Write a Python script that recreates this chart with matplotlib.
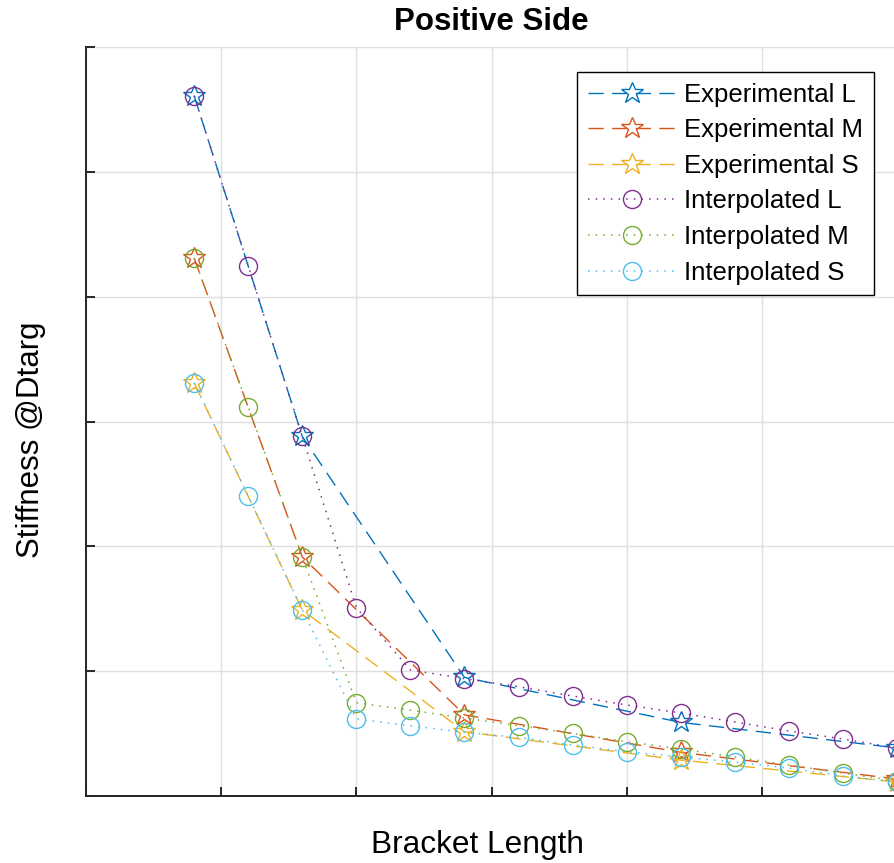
import matplotlib
matplotlib.use("Agg")
import matplotlib.pyplot as plt

plt.rcParams['font.family'] = ['Liberation Sans', 'DejaVu Sans']

# bracket length positions
x_exp = [0.8, 1.6, 2.8, 4.4, 6.0]
x_int = [0.8, 1.2, 1.6, 2.0, 2.4, 2.8, 3.2, 3.6, 4.0, 4.4, 4.8, 5.2, 5.6, 6.0]

# experimental stiffness
exp_L = [5.61, 2.88, 0.95, 0.59, 0.385]
exp_M = [4.31, 1.915, 0.65, 0.35, 0.136]
exp_S = [3.31, 1.49, 0.515, 0.288, 0.112]

# interpolated stiffness
int_L = [5.61, 4.247, 2.88, 1.509, 1.01, 0.94, 0.876, 0.801, 0.729, 0.665, 0.593, 0.521, 0.457, 0.385]
int_M = [4.31, 3.117, 1.915, 0.748, 0.687, 0.625, 0.563, 0.502, 0.435, 0.377, 0.3125, 0.248, 0.184, 0.12]
int_S = [3.31, 2.404, 1.49, 0.617, 0.563, 0.51, 0.47, 0.409, 0.355, 0.3125, 0.272, 0.224, 0.16, 0.112]

colors = ['#0072BD', '#D95319', '#EDB120', '#7E2F8E', '#77AC30', '#4DBEEE']

W, H = 894, 863
fig = plt.figure(figsize=(W / 100, H / 100), dpi=100)
ax = fig.add_axes([86 / W, (H - 796) / H, (897 - 86) / W, (796 - 47) / H])

for y, c, name in zip([exp_L, exp_M, exp_S], colors[:3], ['L', 'M', 'S']):
    ax.plot(x_exp, y, color=c, lw=1.0, dashes=(11, 6), marker='*', ms=16.5,
            mfc='none', mec=c, mew=1.0, label='Experimental ' + name)

for y, c, name in zip([int_L, int_M, int_S], colors[3:], ['L', 'M', 'S']):
    ax.plot(x_int, y, color=c, lw=1.1, dashes=(1, 4), marker='o', ms=13,
            mfc='none', mec=c, mew=1.0, label='Interpolated ' + name)

ax.set_xlim(0, 6)
ax.set_ylim(0, 6)
ax.set_xticks(range(7))
ax.set_yticks(range(7))
ax.set_xticklabels([])
ax.set_yticklabels([])
ax.tick_params(direction='in', length=6.5, width=1.4, color='#262626')
ax.grid(True, color='#DFDFDF', lw=1.0)
ax.set_axisbelow(True)
for s in ['top', 'right']:
    ax.spines[s].set_visible(False)
for s in ['left', 'bottom']:
    ax.spines[s].set_linewidth(1.4)
    ax.spines[s].set_color('#262626')

ax.set_title('Positive Side', fontsize=22.5, fontweight='bold', y=1.033, va='center', pad=0)
ax.set_xlabel('Bracket Length', fontsize=22.8, va='center')
ax.xaxis.set_label_coords((477 - 86) / 811, (796 - 845) / 749)
ax.set_ylabel('Stiffness @Dtarg', fontsize=22.5, va='center')
ax.yaxis.set_label_coords((31 - 86) / 811, (796 - 440) / 749)

leg = ax.legend(loc='upper right', bbox_to_anchor=((874 - 86) / 811, (796 - 72) / 749),
                fontsize=18.5, frameon=True, fancybox=False, framealpha=1,
                edgecolor='black', handlelength=3.4, handletextpad=0.35,
                borderpad=0.42, labelspacing=0.45, borderaxespad=0)
leg.get_frame().set_linewidth(1.0)

fig.savefig('out.png', dpi=100)
